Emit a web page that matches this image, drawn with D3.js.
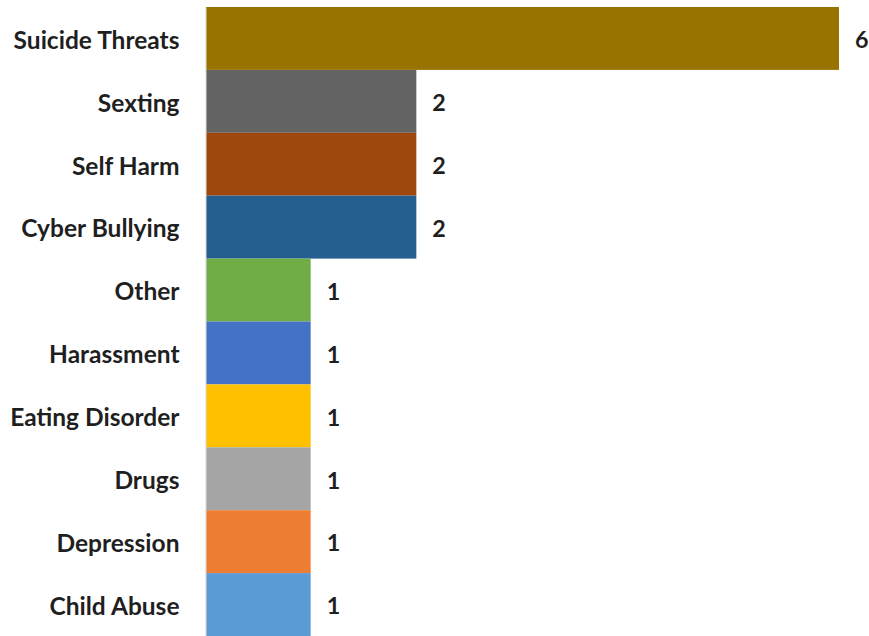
<!DOCTYPE html>
<html><head><meta charset="utf-8">
<script src="https://cdn.jsdelivr.net/npm/d3@7"></script>
<style>body{margin:0;background:#fff}svg{display:block}</style>
</head><body>
<svg id="c" width="869" height="636"></svg>
<script>
const categories = ["Suicide Threats","Sexting","Self Harm","Cyber Bullying","Other","Harassment","Eating Disorder","Drugs","Depression","Child Abuse"];
const values = [6,2,2,2,1,1,1,1,1,1];
const colors = ["#997300","#636363","#9E480E","#255E91","#70AD47","#4472C4","#FFC000","#A5A5A5","#ED7D31","#5B9BD5"];

const svg = d3.select("#c");
const x = d3.scaleLinear().domain([0,6]).range([205,839]);
const y = d3.scaleBand().domain(categories).range([7,636]).padding(0);
const font = "Lato, 'Open Sans', sans-serif";

// fit label font size to reference width
const probe = svg.append("text").attr("font-family",font).attr("font-weight","bold").attr("font-size",20).text(categories[0]);
const w = probe.node().getComputedTextLength();
probe.remove();
const fs = 20*166/w;

svg.append("g").selectAll("rect").data(categories).join("rect")
  .attr("x", x(0)+1).attr("y", d=>y(d))
  .attr("width", (d,i)=>x(values[i])-x(0)-1).attr("height", y.bandwidth())
  .attr("fill", (d,i)=>colors[i]);

const ax = svg.append("g").attr("transform",`translate(${x(0)+0.5},0)`)
  .call(d3.axisLeft(y).tickSize(0).tickPadding(26));
ax.select(".domain").attr("stroke","#d9d9d9").attr("stroke-width",1);
ax.selectAll("text").attr("font-family",font).attr("font-weight","bold")
  .attr("font-size",fs).attr("fill","#1f1f1f").attr("dy","0.42em");

svg.append("g").selectAll("text").data(categories).join("text")
  .attr("x",(d,i)=>x(values[i])+16).attr("y",d=>y(d)+y.bandwidth()/2)
  .attr("dy","0.42em").attr("font-family",font).attr("font-weight","bold")
  .attr("font-size",fs*0.95).attr("fill","#1f1f1f")
  .text((d,i)=>values[i]);
</script>
</body></html>
